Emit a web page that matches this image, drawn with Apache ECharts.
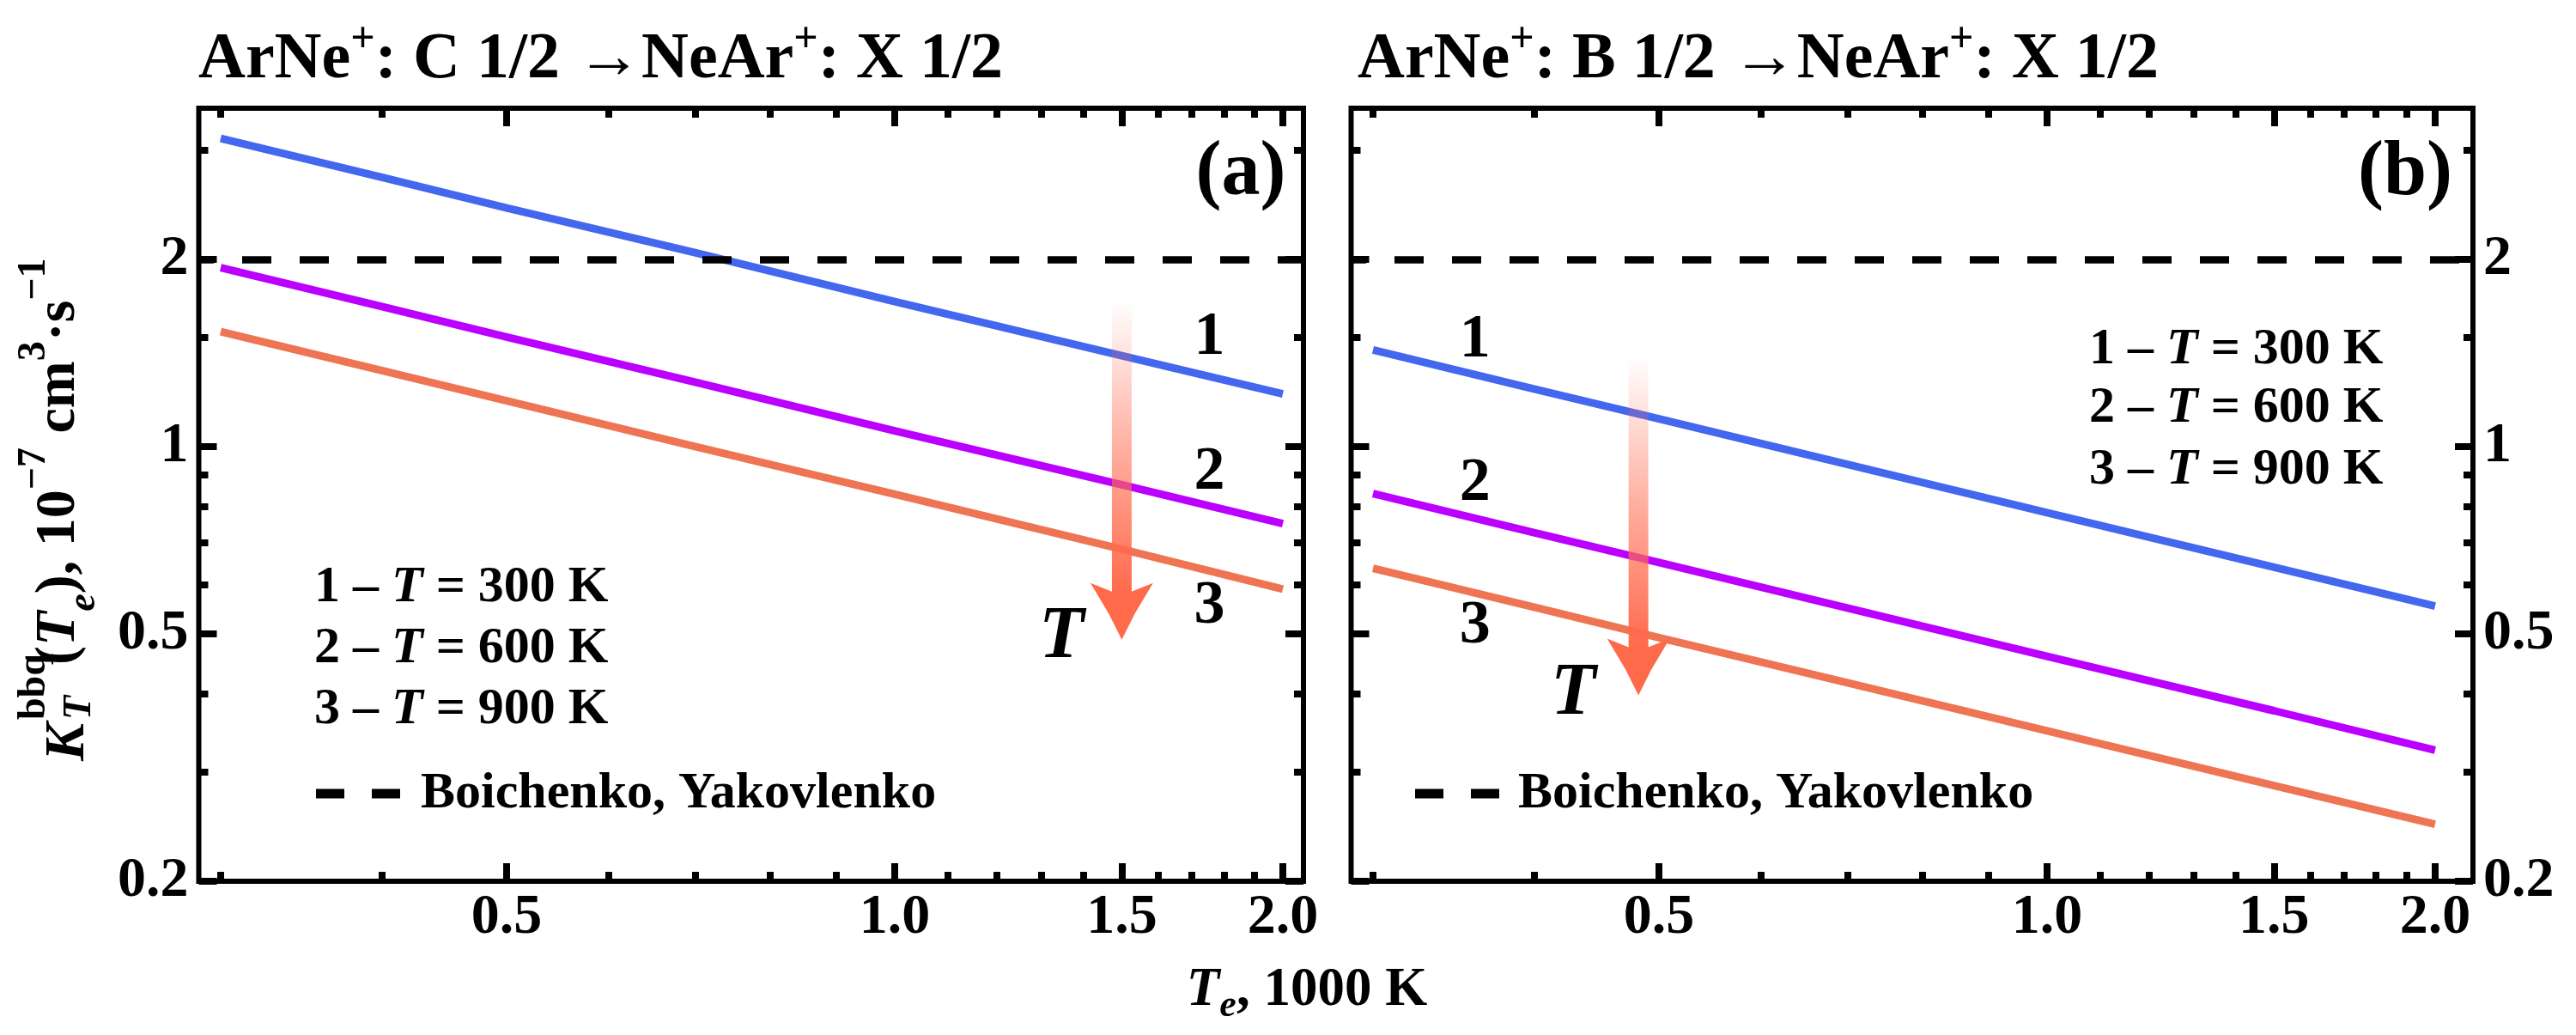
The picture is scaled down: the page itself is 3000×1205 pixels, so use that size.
<!DOCTYPE html>
<html><head><meta charset="utf-8">
<script src="https://cdn.jsdelivr.net/npm/echarts@6/dist/echarts.min.js"></script>
<style>html,body{margin:0;padding:0;background:#fff}#c{width:3000px;height:1205px}</style>
</head><body><div id="c"></div>
<script>
// ---------- data ----------
const Te = [0.3, 0.4, 0.5, 0.7, 1.0, 1.5, 2.0];           // 1000 K
const aT300 = [3.13, 2.71, 2.42, 2.05, 1.71, 1.40, 1.215];
const aT600 = [1.94, 1.68, 1.50, 1.27, 1.06, 0.868, 0.752];
const aT900 = [1.53, 1.325, 1.185, 1.00, 0.838, 0.684, 0.590];
const bT300 = [1.43, 1.238, 1.108, 0.936, 0.783, 0.640, 0.554];
const bT600 = [0.840, 0.727, 0.651, 0.550, 0.460, 0.376, 0.325];
const bT900 = [0.637, 0.552, 0.493, 0.417, 0.349, 0.285, 0.247];
const boichenko = 2;                                     // Boichenko, Yakovlenko
const xMajorTicks = [0.5, 1.0, 1.5, 2.0];
const xMinorTicks = [0.3, 0.4, 0.6, 0.7, 0.8, 0.9, 1.1, 1.2, 1.3, 1.4, 1.6, 1.7, 1.8, 1.9];
const yMajorTicks = [0.2, 0.5, 1, 2];
const yMinorTicks = [0.3, 0.4, 0.6, 0.7, 0.8, 0.9, 1.5, 3];
const curveLabelsA = [[1.754, 1.497, '1'], [1.754, 0.909, '2'], [1.754, 0.552, '3']];
const curveLabelsB = [[0.360, 1.482, '1'], [0.360, 0.872, '2'], [0.360, 0.514, '3']];
const arrowA = [[1.5, 1.684, 0.489]];     // x, start, tip
const arrowB = [[0.482, 1.37, 0.398]];
const arrowLabelA = [[1.347, 0.492, 'T']];
const arrowLabelB = [[0.429, 0.399, 'T']];
const xRangeA = [0.2885, 2.075];
const xRangeB = [0.2885, 2.14];
const yRange = [0.2, 3.5];

// ---------- style ----------
const FONT = '"Liberation Serif", "Times New Roman", serif';
const C_BLUE = '#4367EE', C_PURP = '#BB00FF', C_ORNG = '#EE7453';

function xAx(grid, range, pos, major, labels) {
  return {
    type: 'log', logBase: 10, gridIndex: grid, min: range[0], max: range[1], position: pos,
    axisLine: { show: false }, splitLine: { show: false }, minorTick: { show: false },
    axisTick: { show: true, inside: true, length: major ? 21 : 11,
      customValues: major ? xMajorTicks : xMinorTicks, lineStyle: { color: '#000', width: 8 } },
    axisLabel: { show: labels, customValues: xMajorTicks, formatter: v => Number(v).toFixed(1),
      margin: 10, fontFamily: FONT, fontWeight: 'bold', fontSize: 66, color: '#000' }
  };
}
function yAx(grid, pos, major, labels) {
  return {
    type: 'log', logBase: 10, gridIndex: grid, min: yRange[0], max: yRange[1], position: pos,
    axisLine: { show: false }, splitLine: { show: false }, minorTick: { show: false },
    axisTick: { show: true, inside: true, length: major ? 21 : 11,
      customValues: major ? yMajorTicks : yMinorTicks, lineStyle: { color: '#000', width: 8 } },
    axisLabel: { show: labels, customValues: yMajorTicks, formatter: v => String(+Number(v).toFixed(2)),
      margin: 12, fontFamily: FONT, fontWeight: 'bold', fontSize: 66, color: '#000' }
  };
}

function lineSeries(name, xi, yi, vals, color, withRef) {
  const s = {
    name, type: 'line', xAxisIndex: xi, yAxisIndex: yi, showSymbol: false, symbol: 'none',
    data: Te.map((t, i) => [t, vals[i]]), lineStyle: { color, width: 9, cap: 'butt' },
    silent: true, animation: false, z: 3
  };
  if (withRef) {
    s.markLine = { silent: true, symbol: 'none', animation: false, label: { show: false },
      lineStyle: { color: '#000', width: 8.5, type: [34, 33], dashOffset: 16.5 },
      data: [{ yAxis: boichenko }] };
  }
  return s;
}
function labelSeries(xi, yi, data, size, italic) {
  return {
    type: 'scatter', xAxisIndex: xi, yAxisIndex: yi, data, symbolSize: 1,
    itemStyle: { color: 'rgba(255,255,255,0)', opacity: 1 }, silent: true, animation: false, z: 5,
    label: { show: true, position: 'inside', formatter: p => p.value[2], color: '#000', opacity: 1,
      textBorderWidth: 0, fontFamily: FONT, fontWeight: 'bold', fontStyle: italic ? 'italic' : 'normal', fontSize: size }
  };
}
function arrowItem(params, api) {
  const x = api.value(0);
  const p0 = api.coord([x, api.value(1)]);
  const p1 = api.coord([x, api.value(2)]);
  const cx = p0[0], headLen = 66, halfW = 36.5, sh = 11.5;
  const baseY = p1[1] - headLen;
  return { type: 'group', children: [
    { type: 'rect', shape: { x: cx - sh, y: p0[1], width: 2 * sh, height: baseY + 12 - p0[1] },
      style: { fill: { type: 'linear', x: 0, y: 0, x2: 0, y2: 1, colorStops: [
        { offset: 0, color: 'rgba(255,108,80,0.02)' },
        { offset: 0.5, color: 'rgba(255,108,80,0.55)' },
        { offset: 1, color: 'rgba(255,105,75,1)' }] } } },
    { type: 'polygon', shape: { points: [[cx - halfW, baseY], [cx - sh, baseY + 10], [cx + sh, baseY + 10],
        [cx + halfW, baseY], [cx + 15, p1[1] - 30], [cx, p1[1]], [cx - 15, p1[1] - 30]] },
      style: { fill: '#FF6A4B' } }
  ] };
}
function arrowSeries(xi, yi, data) {
  return { type: 'custom', xAxisIndex: xi, yAxisIndex: yi, data, renderItem: arrowItem,
    encode: { x: 0, y: [1, 2] }, clip: false, silent: true, animation: false, z: 4 };
}

const rich = {
  t: { fontFamily: FONT, fontWeight: 'bold', fontSize: 76, lineHeight: 96, color: '#000' },
  s: { fontFamily: FONT, fontWeight: 'bold', fontSize: 50, lineHeight: 66, verticalAlign: 'top', color: '#000' }
};
function title(x, txt) {
  return { type: 'text', x, y: 70, style: { text: txt, rich, textAlign: 'left', textVerticalAlign: 'middle' } };
}
const legRich = {
  n: { fontFamily: FONT, fontWeight: 'bold', fontSize: 60, color: '#000' },
  i: { fontFamily: FONT, fontWeight: 'bold', fontStyle: 'italic', fontSize: 60, color: '#000' }
};
function legend(x, ys, dashY, dashX, textX) {
  const rows = ['1', '2', '3'].map((n, k) => ({ type: 'text', x, y: ys[k],
    style: { text: '{n|' + n + ' – }{i|T}{n| = ' + [300, 600, 900][k] + ' K}', rich: legRich, textVerticalAlign: 'middle' } }));
  rows.push({ type: 'rect', shape: { x: dashX, y: dashY - 5.5, width: 33, height: 11 }, style: { fill: '#000' } });
  rows.push({ type: 'rect', shape: { x: dashX + 65, y: dashY - 5.5, width: 33, height: 11 }, style: { fill: '#000' } });
  rows.push({ type: 'text', x: textX, y: dashY, style: { text: 'Boichenko, Yakovlenko',
    font: 'bold 60px ' + FONT, fill: '#000', textVerticalAlign: 'middle' } });
  return rows;
}
const yRich = {
  n: { fontFamily: FONT, fontWeight: 'bold', fontSize: 66, lineHeight: 104, color: '#000' },
  i: { fontFamily: FONT, fontWeight: 'bold', fontStyle: 'italic', fontSize: 66, lineHeight: 104, color: '#000' },
  sub: { fontFamily: FONT, fontWeight: 'bold', fontStyle: 'italic', fontSize: 46, lineHeight: 66, verticalAlign: 'bottom', color: '#000' },
  sup: { fontFamily: FONT, fontWeight: 'bold', fontSize: 46, lineHeight: 46, verticalAlign: 'top', color: '#000' }
};
const xRich = {
  i: { fontFamily: FONT, fontWeight: 'bold', fontStyle: 'italic', fontSize: 63, lineHeight: 80, color: '#000' },
  n: { fontFamily: FONT, fontWeight: 'bold', fontSize: 63, lineHeight: 80, color: '#000' },
  sub: { fontFamily: FONT, fontWeight: 'bold', fontStyle: 'italic', fontSize: 44, lineHeight: 56, verticalAlign: 'bottom', color: '#000' }
};

const option = {
  backgroundColor: '#fff',
  animation: false,
  grid: [
    { left: 231.5, top: 126, width: 1286.5, height: 900, show: true, borderWidth: 6, borderColor: '#000',
      backgroundColor: 'rgba(0,0,0,0)', outerBoundsMode: 'none', containLabel: false },
    { left: 1573.5, top: 126, width: 1306.5, height: 900, show: true, borderWidth: 6, borderColor: '#000',
      backgroundColor: 'rgba(0,0,0,0)', outerBoundsMode: 'none', containLabel: false }
  ],
  xAxis: [
    xAx(0, xRangeA, 'bottom', true, true), xAx(0, xRangeA, 'bottom', false, false),
    xAx(0, xRangeA, 'top', true, false), xAx(0, xRangeA, 'top', false, false),
    xAx(1, xRangeB, 'bottom', true, true), xAx(1, xRangeB, 'bottom', false, false),
    xAx(1, xRangeB, 'top', true, false), xAx(1, xRangeB, 'top', false, false)
  ],
  yAxis: [
    yAx(0, 'left', true, true), yAx(0, 'left', false, false),
    yAx(0, 'right', true, false), yAx(0, 'right', false, false),
    yAx(1, 'left', true, false), yAx(1, 'left', false, false),
    yAx(1, 'right', true, true), yAx(1, 'right', false, false)
  ],
  series: [
    lineSeries('a: T = 300 K', 0, 0, aT300, C_BLUE, true),
    lineSeries('a: T = 600 K', 0, 0, aT600, C_PURP, false),
    lineSeries('a: T = 900 K', 0, 0, aT900, C_ORNG, false),
    lineSeries('b: T = 300 K', 4, 4, bT300, C_BLUE, true),
    lineSeries('b: T = 600 K', 4, 4, bT600, C_PURP, false),
    lineSeries('b: T = 900 K', 4, 4, bT900, C_ORNG, false),
    arrowSeries(0, 0, arrowA), arrowSeries(4, 4, arrowB),
    labelSeries(0, 0, curveLabelsA, 72, false), labelSeries(4, 4, curveLabelsB, 72, false),
    labelSeries(0, 0, arrowLabelA, 86, true), labelSeries(4, 4, arrowLabelB, 86, true)
  ],
  graphic: [
    title(231, '{t|ArNe}{s|+}{t|: C 1/2 →NeAr}{s|+}{t|: X 1/2}'),
    title(1581, '{t|ArNe}{s|+}{t|: B 1/2 →NeAr}{s|+}{t|: X 1/2}'),
    { type: 'text', x: 1445, y: 203, style: { text: '(a)', font: 'bold 90px ' + FONT, fill: '#000', textAlign: 'center', textVerticalAlign: 'middle' } },
    { type: 'text', x: 2801, y: 203, style: { text: '(b)', font: 'bold 90px ' + FONT, fill: '#000', textAlign: 'center', textVerticalAlign: 'middle' } },
    ...legend(366, [684, 755, 826], 924, 368, 490),
    ...legend(2433, [407, 475, 547], 924, 1648, 1768),
    { type: 'text', x: 1522, y: 1154, style: { text: '{i|T}{sub|e}{n|, 1000 K}', rich: xRich, textAlign: 'center', textVerticalAlign: 'middle' } },
    { type: 'group', x: 80, y: 886, rotation: Math.PI / 2, children: [
      { type: 'text', x: 0, y: 0, style: { text: 'K', font: 'italic bold 66px ' + FONT, fill: '#000', textAlign: 'left', textVerticalAlign: 'middle' } },
      { type: 'text', x: 48, y: -40, style: { text: 'bbq', font: 'bold 46px ' + FONT, fill: '#000', textAlign: 'left', textVerticalAlign: 'middle' } },
      { type: 'text', x: 48, y: 13, style: { text: 'T', font: 'italic bold 46px ' + FONT, fill: '#000', textAlign: 'left', textVerticalAlign: 'middle' } },
      { type: 'text', x: 112, y: -11, style: { text: '{n|(}{i|T}{sub|e}{n|), 10}{sup|−7}{n| cm}{sup|3}{n|·s}{sup|−1}', rich: yRich, textAlign: 'left', textVerticalAlign: 'middle' } }
    ] }
  ]
};
const chart = echarts.init(document.getElementById('c'), null, { renderer: 'canvas' });
chart.setOption(option);
</script></body></html>
